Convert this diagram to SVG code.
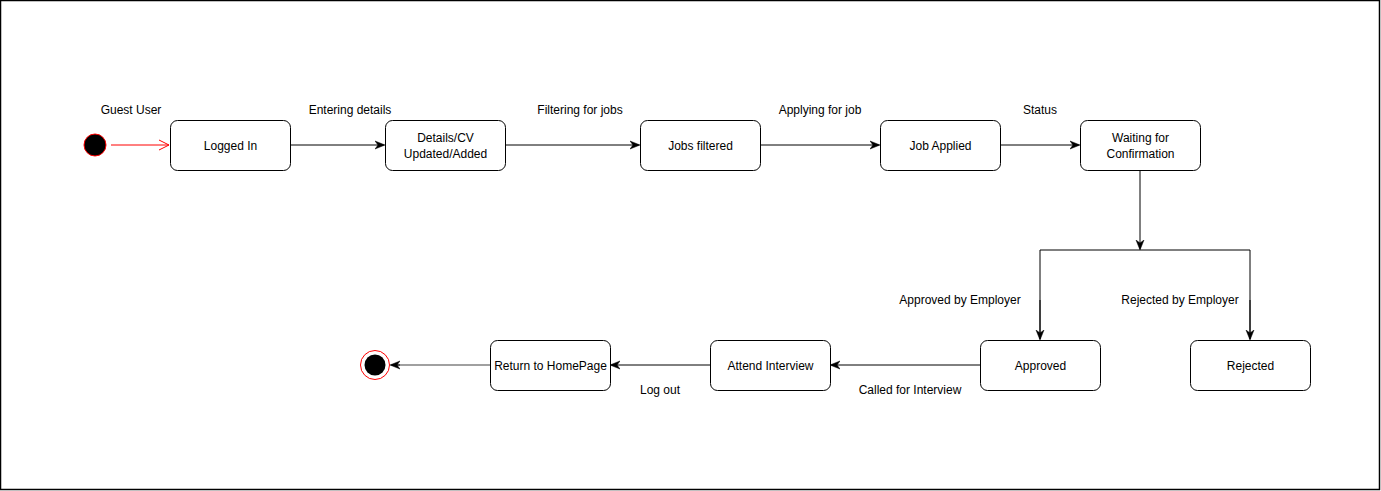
<svg xmlns="http://www.w3.org/2000/svg" width="1381" height="491" viewBox="0 0 1381 491">
  <style>
    .state { fill: #ffffff; stroke: #000000; stroke-width: 1; }
    .lbl { font-family: "Liberation Sans", Arial, sans-serif; font-size: 12px; fill: #000000; text-anchor: middle; }
    .edge { fill: none; stroke: #000000; stroke-width: 1; }
  </style>
  <defs>
    <marker id="arrow" viewBox="0 0 10 10" refX="9" refY="5" markerWidth="10" markerHeight="10" markerUnits="userSpaceOnUse" orient="auto">
      <path d="M0,1 L10,5 L0,9 L3,5 Z" fill="#000000" stroke="#000000" stroke-width="0.5"/>
    </marker>
    <marker id="open" viewBox="0 0 12 12" refX="11" refY="6" markerWidth="12" markerHeight="12" markerUnits="userSpaceOnUse" orient="auto">
      <path d="M1,1 L11,6 L1,11" fill="none" stroke="#ff0000" stroke-width="1"/>
    </marker>
  </defs>

  <rect x="0.5" y="0.5" width="1379" height="489" fill="#ffffff" stroke="#000000" stroke-width="1.5"/>

  <!-- transitions -->
  <g id="connectors">
    <line x1="111" y1="145" x2="169" y2="145" stroke="#ff0000" stroke-width="1" marker-end="url(#open)"/>
    <line class="edge" x1="290" y1="145" x2="384" y2="145" marker-end="url(#arrow)"/>
    <line class="edge" x1="505" y1="145" x2="639" y2="145" marker-end="url(#arrow)"/>
    <line class="edge" x1="760" y1="145" x2="879" y2="145" marker-end="url(#arrow)"/>
    <line class="edge" x1="1000" y1="145" x2="1079" y2="145" marker-end="url(#arrow)"/>
    <line class="edge" x1="1140" y1="170" x2="1140" y2="249" marker-end="url(#arrow)"/>
    <polyline class="edge" points="1040,339 1040,250 1250,250 1250,339"/>
    <line class="edge" x1="1040" y1="300" x2="1040" y2="339" marker-end="url(#arrow)"/>
    <line class="edge" x1="1250" y1="300" x2="1250" y2="339" marker-end="url(#arrow)"/>
    <line class="edge" x1="980" y1="365" x2="831" y2="365" marker-end="url(#arrow)"/>
    <line class="edge" x1="710" y1="365" x2="611" y2="365" marker-end="url(#arrow)"/>
    <line x1="490" y1="365" x2="392" y2="365" stroke="#808080" stroke-width="1.5"/>
    <line class="edge" x1="400" y1="365" x2="391" y2="365" marker-end="url(#arrow)"/>

    <text class="lbl" x="131" y="114">Guest User</text>
    <text class="lbl" x="350" y="114">Entering details</text>
    <text class="lbl" x="580" y="114">Filtering for jobs</text>
    <text class="lbl" x="820" y="114">Applying for job</text>
    <text class="lbl" x="1040" y="114">Status</text>
    <text class="lbl" x="960" y="304">Approved by Employer</text>
    <text class="lbl" x="1180" y="304">Rejected by Employer</text>
    <text class="lbl" x="910" y="394">Called for Interview</text>
    <text class="lbl" x="660" y="394">Log out</text>
  </g>

  <g id="start">
    <circle cx="95" cy="145" r="11" fill="#000000" stroke="#ff0000" stroke-width="1"/>
  </g>
  <g id="logged-in">
    <rect class="state" x="170.5" y="120.5" width="120" height="50" rx="7"/>
    <text class="lbl" x="230.5" y="150">Logged In</text>
  </g>
  <g id="details">
    <rect class="state" x="385.5" y="120.5" width="120" height="50" rx="7"/>
    <text class="lbl" x="445.5" y="142">Details/CV</text>
    <text class="lbl" x="445.5" y="158">Updated/Added</text>
  </g>
  <g id="jobs-filtered">
    <rect class="state" x="640.5" y="120.5" width="120" height="50" rx="7"/>
    <text class="lbl" x="700.5" y="150">Jobs filtered</text>
  </g>
  <g id="job-applied">
    <rect class="state" x="880.5" y="120.5" width="120" height="50" rx="7"/>
    <text class="lbl" x="940.5" y="150">Job Applied</text>
  </g>
  <g id="waiting">
    <rect class="state" x="1080.5" y="120.5" width="120" height="50" rx="7"/>
    <text class="lbl" x="1140.5" y="142">Waiting for</text>
    <text class="lbl" x="1140.5" y="158">Confirmation</text>
  </g>
  <g id="approved">
    <rect class="state" x="980.5" y="340.5" width="120" height="50" rx="7"/>
    <text class="lbl" x="1040.5" y="370">Approved</text>
  </g>
  <g id="rejected">
    <rect class="state" x="1190.5" y="340.5" width="120" height="50" rx="7"/>
    <text class="lbl" x="1250.5" y="370">Rejected</text>
  </g>
  <g id="attend-interview">
    <rect class="state" x="710.5" y="340.5" width="120" height="50" rx="7"/>
    <text class="lbl" x="770.5" y="370">Attend Interview</text>
  </g>
  <g id="return-home">
    <rect class="state" x="490.5" y="340.5" width="120" height="50" rx="7"/>
    <text class="lbl" x="550.5" y="370">Return to HomePage</text>
  </g>
  <g id="end">
    <circle cx="375" cy="365" r="14.5" fill="#ffffff" stroke="#ff0000" stroke-width="1"/>
    <circle cx="375" cy="365" r="10.5" fill="#000000"/>
  </g>
</svg>
